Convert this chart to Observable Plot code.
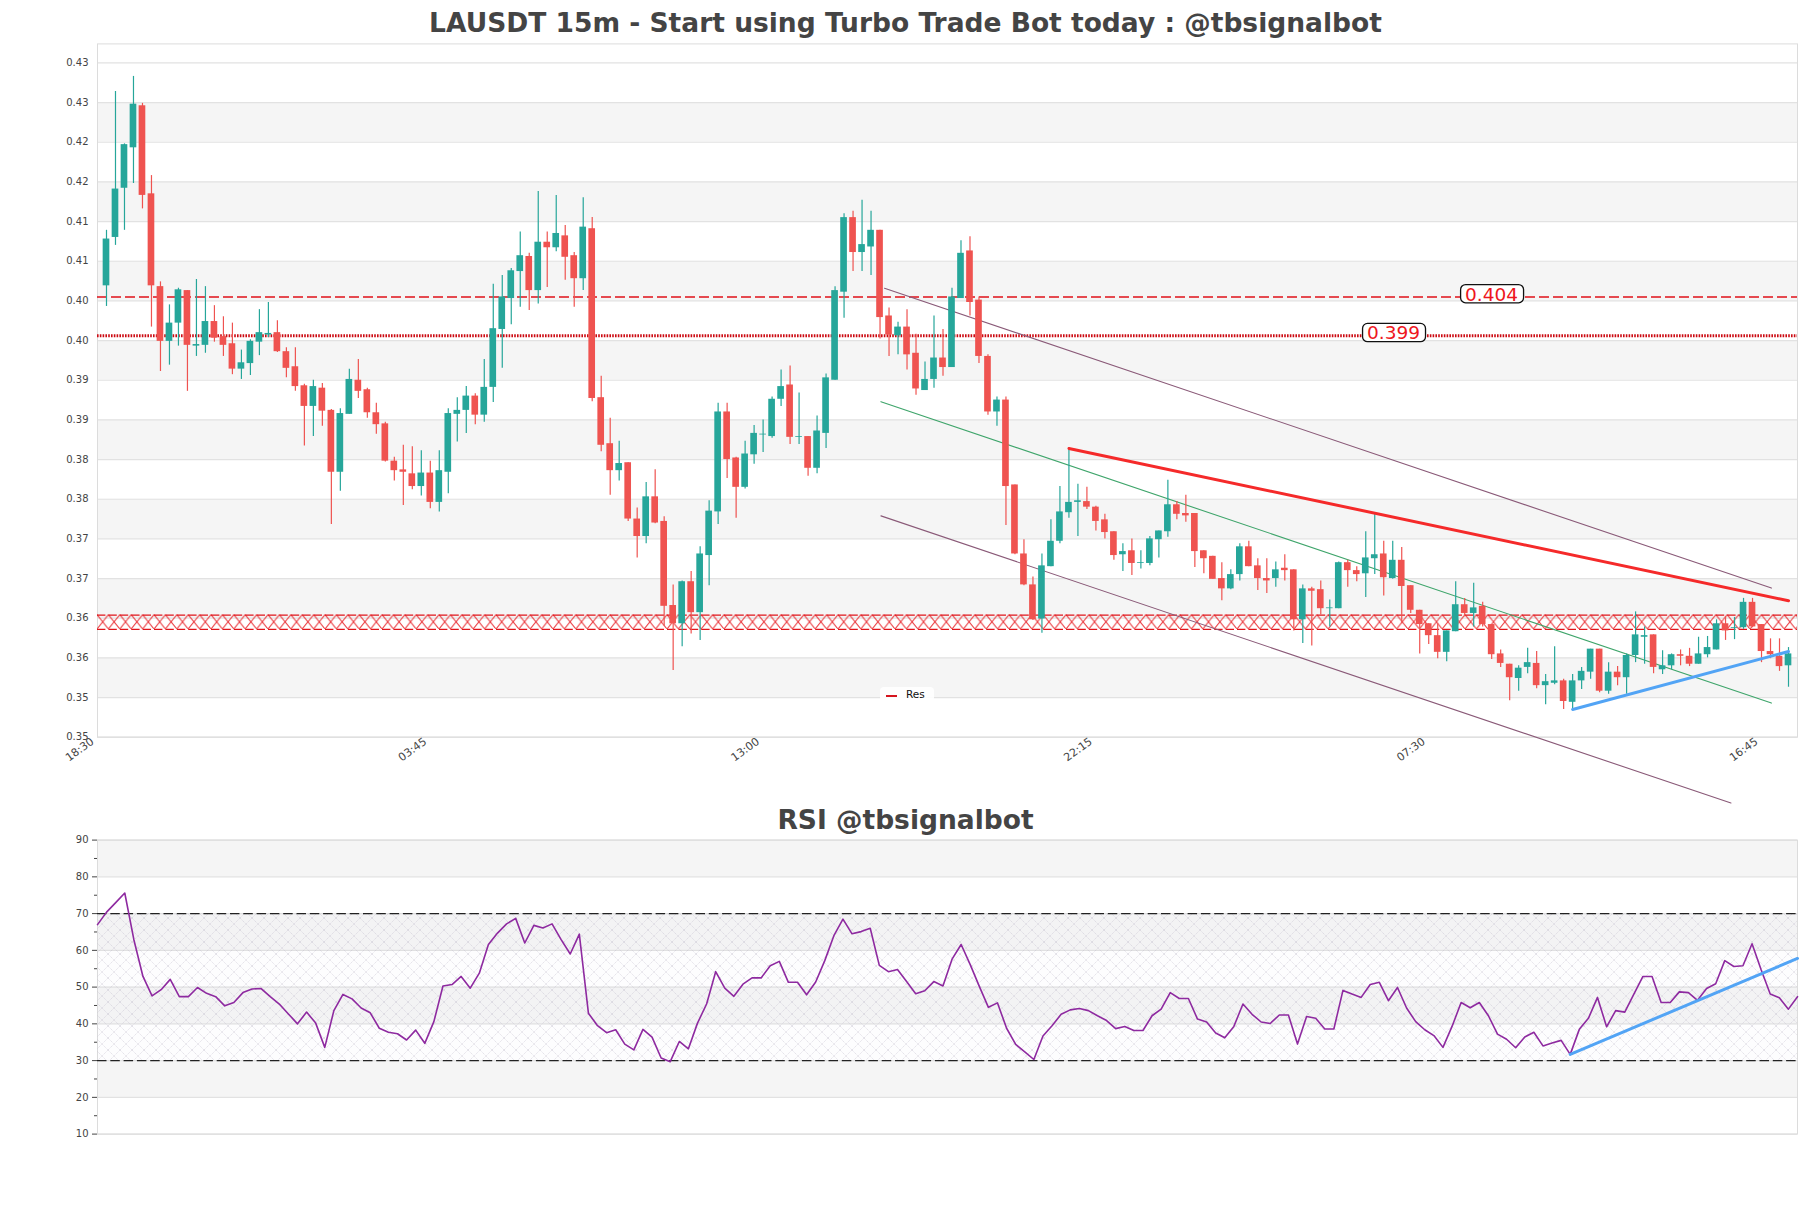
<!DOCTYPE html>
<html>
<head>
<meta charset="utf-8">
<script src="https://cdn.jsdelivr.net/npm/d3@7"></script>
<script src="https://cdn.jsdelivr.net/npm/@observablehq/plot@0.6"></script>
<style>
html,body{margin:0;padding:0;background:#fff}
#page{position:relative;width:1811px;height:1208px;overflow:hidden;font-family:"DejaVu Sans",sans-serif}
#page svg{position:absolute;left:0;background:transparent}
.ttl{position:absolute;left:0;text-align:center;font-weight:bold;color:#444;white-space:nowrap;z-index:3}
#legend{position:absolute;left:880px;top:687px;width:54px;height:15px;background:rgba(255,255,255,.9);border-radius:4px;z-index:3;font-size:10.5px;color:#111}
#legend i{position:absolute;left:6px;top:8px;width:11px;height:2px;background:#d5141e}
#legend span{position:absolute;left:26px;top:1px}
</style>
</head>
<body>
<div id="page">
  <div class="ttl" style="top:5px;width:1811px;font-size:26.5px;line-height:36px">LAUSDT 15m - Start using Turbo Trade Bot today : @tbsignalbot</div>
  <div class="ttl" style="top:802px;width:1811px;font-size:26.5px;line-height:36px">RSI @tbsignalbot</div>
  <div id="legend"><i></i><span>Res</span></div>
</div>
<script>
const opens = [.4054,.4115,.4177,.4228,.4281,.4170,.4053,.3984,.4007,.4048,.3978,.3979,.4009,.3990,.3981,.3949,.3956,.3983,.3992,.3995,.3971,.3952,.3928,.3902,.3925,.3897,.3819,.3892,.3935,.3923,.3894,.3880,.3833,.3822,.3817,.3801,.3818,.3781,.3819,.3892,.3897,.3915,.3891,.3926,.3999,.4038,.4072,.4091,.4048,.4109,.4102,.4117,.4092,.4063,.4126,.3913,.3855,.3821,.3831,.3760,.3738,.3788,.3757,.3651,.3628,.3681,.3642,.3714,.3769,.3895,.3837,.3800,.3841,.3866,.3864,.3911,.3929,.3863,.3864,.3824,.3868,.3935,.4046,.4140,.4096,.4103,.4124,.4016,.3991,.4002,.3969,.3922,.3936,.3963,.3951,.4038,.4098,.4036,.3965,.3895,.3910,.3803,.3716,.3677,.3634,.3700,.3732,.3768,.3781,.3782,.3775,.3759,.3744,.3715,.3720,.3704,.3704,.3734,.3744,.3778,.3767,.3767,.3720,.3713,.3685,.3672,.3690,.3725,.3701,.3685,.3685,.3698,.3696,.3633,.3672,.3671,.3647,.3647,.3705,.3695,.3691,.3710,.3716,.3685,.3708,.3676,.3645,.3628,.3613,.3592,.3618,.3652,.3641,.3650,.3627,.3590,.3577,.3559,.3573,.3578,.3550,.3553,.3556,.3529,.3556,.3567,.3596,.3543,.3567,.3560,.3588,.3611,.3614,.3570,.3575,.3589,.3587,.3577,.3589,.3595,.3628,.3622,.3623,.3655,.3627,.3593,.3587,.3575];
const closes = [.4113,.4176,.4232,.4283,.4168,.4054,.3984,.4007,.4049,.3979,.3980,.4009,.3988,.3979,.3949,.3957,.3984,.3995,.3994,.3971,.3950,.3927,.3902,.3927,.3896,.3819,.3893,.3936,.3921,.3894,.3879,.3833,.3821,.3819,.3801,.3818,.3781,.3821,.3893,.3897,.3915,.3891,.3926,.4000,.4040,.4073,.4092,.4048,.4109,.4102,.4120,.4090,.4063,.4128,.3912,.3853,.3821,.3830,.3760,.3738,.3788,.3755,.3650,.3628,.3681,.3642,.3716,.3770,.3895,.3835,.3800,.3842,.3868,.3867,.3911,.3927,.3863,.3864,.3824,.3871,.3938,.4048,.4140,.4096,.4106,.4124,.4014,.3992,.4002,.3967,.3924,.3936,.3963,.3951,.4040,.4095,.4033,.3965,.3895,.3910,.3801,.3716,.3677,.3633,.3701,.3732,.3769,.3781,.3783,.3775,.3757,.3743,.3714,.3719,.3704,.3705,.3735,.3745,.3778,.3766,.3764,.3719,.3710,.3684,.3672,.3690,.3725,.3700,.3685,.3682,.3696,.3695,.3633,.3672,.3669,.3647,.3648,.3705,.3695,.3690,.3711,.3715,.3686,.3708,.3675,.3645,.3627,.3613,.3592,.3619,.3652,.3641,.3648,.3627,.3589,.3578,.3560,.3572,.3579,.3550,.3555,.3556,.3530,.3556,.3568,.3596,.3543,.3567,.3560,.3588,.3614,.3613,.3573,.3575,.3589,.3587,.3577,.3590,.3598,.3628,.3619,.3623,.3655,.3624,.3593,.3589,.3574,.3590];
const highs = [.4124,.4299,.4233,.4318,.4284,.4193,.4059,.4030,.4051,.4048,.4062,.4053,.4029,.4015,.4007,.3973,.3986,.4024,.4033,.4010,.3976,.3976,.3930,.3935,.3931,.3898,.3899,.3949,.3961,.3925,.3906,.3882,.3838,.3853,.3851,.3846,.3833,.3846,.3899,.3913,.3927,.3918,.3961,.4056,.4067,.4076,.4122,.4095,.4173,.4122,.4168,.4130,.4096,.4165,.4140,.3940,.3887,.3858,.3831,.3774,.3806,.3822,.3763,.3677,.3682,.3694,.3725,.3783,.3906,.3906,.3838,.3858,.3878,.3885,.3914,.3948,.3953,.3919,.3864,.3890,.3943,.4053,.4145,.4148,.4162,.4148,.4124,.4026,.4008,.4024,.3993,.3958,.4016,.3999,.4051,.4111,.4116,.4040,.3967,.3914,.3914,.3803,.3734,.3687,.3716,.3759,.3801,.3850,.3804,.3800,.3776,.3766,.3744,.3729,.3735,.3720,.3738,.3745,.3809,.3782,.3790,.3767,.3720,.3713,.3705,.3696,.3729,.3732,.3710,.3710,.3706,.3715,.3696,.3677,.3674,.3682,.3658,.3706,.3708,.3700,.3744,.3768,.3732,.3732,.3724,.3676,.3645,.3628,.3628,.3619,.3681,.3660,.3679,.3655,.3627,.3595,.3577,.3575,.3597,.3593,.3564,.3599,.3558,.3564,.3573,.3596,.3596,.3579,.3574,.3590,.3643,.3624,.3614,.3594,.3590,.3595,.3597,.3611,.3612,.3633,.3637,.3636,.3660,.3660,.3627,.3609,.3609,.3598];
const lows = [.4028,.4105,.4124,.4183,.4151,.4002,.3946,.3954,.3978,.3921,.3965,.3969,.3983,.3965,.3942,.3936,.3941,.3966,.3989,.3970,.3938,.3921,.3852,.3864,.3877,.3753,.3795,.3892,.3912,.3887,.3867,.3832,.3808,.3777,.3797,.3789,.3773,.3769,.3792,.3857,.3868,.3879,.3882,.3907,.3950,.4005,.4027,.4023,.4031,.4052,.4097,.4061,.4027,.4048,.3908,.3845,.3790,.3808,.3757,.3711,.3729,.3754,.3625,.3569,.3599,.3615,.3607,.3676,.3753,.3811,.3761,.3798,.3829,.3844,.3862,.3902,.3854,.3854,.3814,.3817,.3849,.3935,.4013,.4072,.4072,.4067,.3987,.3965,.3967,.3948,.3916,.3922,.3925,.3940,.3951,.4038,.4016,.3956,.3891,.3877,.3752,.3715,.3676,.3632,.3616,.3700,.3729,.3761,.3738,.3772,.3745,.3735,.3708,.3694,.3689,.3697,.3701,.3711,.3737,.3759,.3756,.3699,.3691,.3684,.3657,.3671,.3682,.3700,.3670,.3666,.3674,.3682,.3619,.3603,.3600,.3639,.3624,.3647,.3674,.3681,.3661,.3690,.3663,.3684,.3628,.3641,.3590,.3602,.3584,.3580,.3618,.3637,.3624,.3624,.3583,.3573,.3531,.3543,.3565,.3546,.3526,.3551,.3520,.3520,.3545,.3558,.3541,.3539,.3550,.3539,.3579,.3577,.3565,.3564,.3570,.3575,.3574,.3577,.3585,.3595,.3607,.3608,.3621,.3623,.3579,.3584,.3568,.3548];
const rsi = [67,70.4,73,75.6,62.9,52.9,47.6,49.3,52.1,47.4,47.4,49.9,48.3,47.4,44.9,45.8,48.5,49.5,49.6,47.4,45.4,42.7,40,43.2,40.2,33.6,43.6,48,46.8,44.3,43,38.8,37.7,37.3,35.6,38.3,34.7,40.6,50.3,50.7,52.9,49.7,53.8,61.6,64.7,67.2,68.7,62,66.8,66.1,67.2,62.9,59,64.4,42.9,39.5,37.6,38.4,34.5,32.9,38.5,36.4,30.7,29.7,35.2,33.2,40.2,45.4,54.2,49.7,47.5,50.8,52.5,52.5,55.8,57,51.3,51.3,47.9,51.4,57.2,64,68.5,64.5,65.1,66,55.9,54.2,54.8,51.5,48.2,49,51.5,50.3,57.6,61.6,56.1,50.2,44.5,45.7,38.8,34.4,32.4,30.3,36.7,39.5,42.6,43.8,44.2,43.6,42.2,40.9,38.7,39.3,38.2,38.2,42.2,44,48.5,46.9,46.9,41.3,40.5,37.5,36.2,39.3,45.4,42.6,40.5,40.1,42.4,42.4,34.5,42,41.5,38.6,38.6,49.1,48.1,47.2,50.7,51.3,46.3,49.9,44.3,40.6,38.4,36.8,33.6,39.3,45.8,44.4,45.8,42.2,37.2,35.8,33.5,36.4,37.7,34,34.8,35.5,31.7,38.5,41.5,47.2,39.2,43.6,43.2,48.1,52.9,52.9,45.8,45.8,48.7,48.5,46.4,49.6,50.9,57.2,55.6,55.8,61.8,54.7,48.1,47.1,44,47.4];

const priceTicks = [.3485,.3535,.3585,.3635,.3685,.3735,.3785,.3835,.3885,.3935,.3985,.4035,.4085,.4135,.4185,.4235,.4285,.4335];
const priceBands = [[.3535,.3585],[.3635,.3685],[.3735,.3785],[.3835,.3885],[.3935,.3985],[.4035,.4085],[.4135,.4185],[.4235,.4285]];
const timeTicks = [0,37,74,111,148,185];
const timeLabels = ["18:30","03:45","13:00","22:15","07:30","16:45"];
const resistances = [0.4040,0.3991];
const supportZone = [0.3621,0.3639];
const valueLabels = [{label:"0.404",at:155.1,lo:.4032,hi:.4055},{label:"0.399",at:144.2,lo:.3983,hi:.4006}];
const channelUpper = [{i:87.5,p:.4051},{i:186.1,p:.3673}];
const channelMiddle = [{i:87.1,p:.3908},{i:186.1,p:.3528}];
const channelLower = [{i:87.1,p:.3764},{i:181.6,p:.3402}];
const trendRed = [{i:108,p:.3849},{i:188,p:.3657}];
const trendBlue = [{i:164,p:.3520},{i:188,p:.3593}];
const rsiTrend = [{j:162,v:31.7},{j:187,v:57.8}];
const rsiTicks = [10,20,30,40,50,60,70,80,90];
const rsiMinor = [15,25,35,45,55,65,75,85];
const rsiBands = [[20,30],[40,50],[60,70],[80,90]];

const FONT = '"DejaVu Sans",sans-serif';
const candles = opens.map((o,k)=>({i:k+1,o,c:closes[k],h:highs[k],l:lows[k]}));
const GREEN="#26a69a", RED="#ef5350";
const colorOf = d => d.c>=d.o ? GREEN : RED;
const defs = html => () => { const g=d3.create("svg:defs"); g.html(html); return g.node(); };

const main = Plot.plot({
  width:1811, height:810,
  marginLeft:97, marginRight:14, marginTop:43.4, marginBottom:73.3,
  style:{fontFamily:FONT,fontSize:"10px",color:"#444",overflow:"visible"},
  x:{domain:[0,189],range:[97,1797]},
  y:{domain:[.3485,.4359]},
  marks:[
    defs(`<pattern id="hx" patternUnits="userSpaceOnUse" x="97" y="${736.7-(0.3621-.3485)/.005*39.6}" width="11.4" height="14.3"><path d="M0,14.3L11.4,0M0,0L11.4,14.3" stroke="#e8252a" stroke-width="1" fill="none"/></pattern>`),
    Plot.rect(priceBands,{x1:()=>0,x2:()=>189,y1:d=>d[0],y2:d=>d[1],fill:"#f5f5f5"}),
    Plot.ruleY(priceTicks,{stroke:"#e2e2e2",strokeWidth:1.2}),
    Plot.frame({stroke:"#dcdcdc"}),
    Plot.rect([supportZone],{x1:()=>0,x2:()=>189,y1:d=>d[0],y2:d=>d[1],fill:"url(#hx)"}),
    Plot.ruleY(supportZone,{stroke:"#e0141a",strokeWidth:1.3,strokeDasharray:"8.4,3"}),
    Plot.ruleY([resistances[0]],{stroke:"#df1018",strokeWidth:1.5,strokeDasharray:"10,4"}),
    Plot.ruleY([resistances[1]],{stroke:"#cc0a12",strokeWidth:3,strokeDasharray:"1.6,1.2"}),
    Plot.line(channelUpper,{x:"i",y:"p",stroke:"#8a5a78",strokeWidth:1.1}),
    Plot.line(channelLower,{x:"i",y:"p",stroke:"#8a5a78",strokeWidth:1.1,clip:false}),
    Plot.line(channelMiddle,{x:"i",y:"p",stroke:"#3fa56b",strokeWidth:1.1}),
    Plot.ruleX(candles,{x:"i",y1:"l",y2:"h",stroke:colorOf,strokeWidth:1.2}),
    Plot.rect(candles,{x1:d=>d.i-.37,x2:d=>d.i+.37,y1:"o",y2:"c",fill:colorOf}),
    Plot.line(trendRed,{x:"i",y:"p",stroke:"#f52a2a",strokeWidth:3}),
    Plot.line(trendBlue,{x:"i",y:"p",stroke:"#52a4f5",strokeWidth:3}),
    Plot.rect(valueLabels,{x1:d=>d.at-3.5,x2:d=>d.at+3.5,y1:"lo",y2:"hi",fill:"#fff",stroke:"#111",strokeWidth:1.3,rx:5}),
    Plot.text(valueLabels,{x:"at",y:d=>(d.lo+d.hi)/2,dx:-1,dy:0.5,text:"label",fill:"#ee1620",fontSize:18.5,fontFamily:FONT}),
    Plot.axisY({ticks:priceTicks,tickFormat:d3.format(".2f"),tickSize:0,tickPadding:9,label:null,fill:"#444"}),
    Plot.axisX({ticks:timeTicks,tickFormat:d=>timeLabels[timeTicks.indexOf(d)],tickSize:0,tickPadding:3,tickRotate:-36,fontSize:11,dx:-5,label:null,fill:"#444"})
  ]
});
main.style.top="0px";
document.getElementById("page").appendChild(main);

const rsiPoints = rsi.map((v,j)=>({j,v}));
const rsiPlot = Plot.plot({
  width:1811, height:344,
  marginLeft:97, marginRight:14, marginTop:29.6, marginBottom:20.4,
  style:{fontFamily:FONT,fontSize:"10px",color:"#444",overflow:"visible"},
  x:{domain:[0,187],range:[97,1797],axis:null},
  y:{domain:[10,90]},
  marks:[
    defs(`<pattern id="hr" patternUnits="userSpaceOnUse" width="12" height="12"><path d="M0,12L12,0M0,0L12,12" stroke="#b9b3c6" stroke-opacity=".55" stroke-width=".7" stroke-dasharray="1.4,.8" fill="none"/></pattern>`),
    Plot.rect(rsiBands,{x1:()=>0,x2:()=>187,y1:d=>d[0],y2:d=>d[1],fill:"#f5f5f5"}),
    Plot.ruleY(rsiTicks,{stroke:"#e2e2e2",strokeWidth:1.2}),
    Plot.frame({stroke:"#dcdcdc"}),
    Plot.rect([[30,70]],{x1:()=>0,x2:()=>187,y1:d=>d[0],y2:d=>d[1],fill:"rgba(120,80,180,.012)"}),
    Plot.rect([[30,70]],{x1:()=>0,x2:()=>187,y1:d=>d[0],y2:d=>d[1],fill:"url(#hr)"}),
    Plot.ruleY([30,70],{stroke:"#222",strokeWidth:1.2,strokeDasharray:"9.5,3.8"}),
    Plot.line(rsiPoints,{x:"j",y:"v",stroke:"#8e2aa0",strokeWidth:1.6}),
    Plot.line(rsiTrend,{x:"j",y:"v",stroke:"#52a4f5",strokeWidth:3}),
    Plot.axisY({ticks:rsiTicks,tickSize:5,tickPadding:4,label:null,fill:"#444"}),
    Plot.axisY({ticks:rsiMinor,tickSize:3,tickFormat:()=>"",label:null})
  ]
});
rsiPlot.style.top="810px";
document.getElementById("page").appendChild(rsiPlot);
</script>
</body>
</html>
